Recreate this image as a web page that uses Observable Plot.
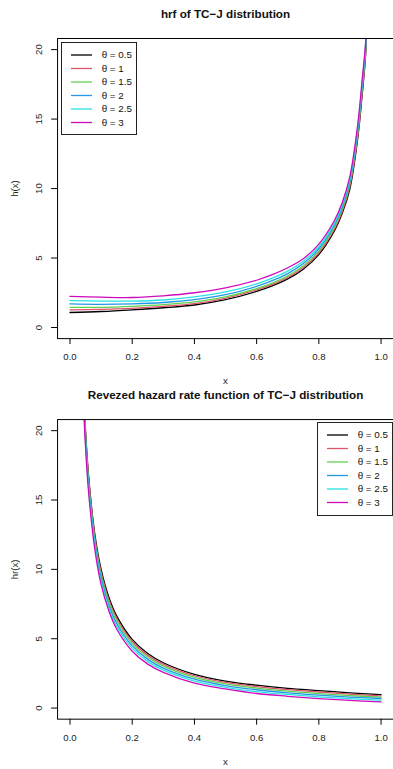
<!DOCTYPE html>
<html>
<head>
<meta charset="utf-8">
<script src="https://cdn.jsdelivr.net/npm/d3@7"></script>
<script src="https://cdn.jsdelivr.net/npm/@observablehq/plot@0.6"></script>
<style>
  html, body { margin: 0; padding: 0; background: white; }
  #wrap { position: relative; width: 393px; height: 769px; overflow: hidden; background: white;
          font-family: "Liberation Sans", Arial, sans-serif; }
  .chart { position: absolute; left: 0; }
  .legend { position: absolute; box-sizing: border-box; border: 1px solid #222; background: white; }
</style>
</head>
<body>
<div id="wrap"></div>
<script>
// ---------- data ----------
const thetaLabels = ["θ = 0.5", "θ = 1", "θ = 1.5", "θ = 2", "θ = 2.5", "θ = 3"];
const seriesColors = ["#000000", "#DF536B", "#61D04F", "#2297E6", "#28E2E5", "#CD0BBC"];

const titleTop = "hrf of TC\u2212J distribution";
const titleBottom = "Revezed hazard rate function of TC\u2212J distribution";
const xLabel = "x";
const yLabelTop = "h(x)";
const yLabelBottom = "hr(x)";

const xTicks = [0, 0.2, 0.4, 0.6, 0.8, 1.0];
const yTicks = [0, 5, 10, 15, 20];

// hazard rate function (top panel)
const xTop = [0, 0.1, 0.2, 0.3, 0.4, 0.5, 0.6, 0.65, 0.7, 0.75, 0.8, 0.85, 0.875, 0.9, 0.925, 0.94, 0.95, 0.96];
const hTheta05 = [1.08, 1.15, 1.27, 1.42, 1.62, 2.00, 2.60, 3.00, 3.50, 4.20, 5.25, 6.95, 8.20, 10.0, 13.6, 16.9, 19.5, 25.0];
const hTheta1  = [1.27, 1.30, 1.38, 1.52, 1.72, 2.10, 2.70, 3.10, 3.60, 4.32, 5.38, 7.08, 8.35, 10.2, 13.8, 17.1, 19.7, 25.2];
const hTheta15 = [1.45, 1.45, 1.52, 1.64, 1.84, 2.20, 2.80, 3.20, 3.72, 4.44, 5.52, 7.22, 8.50, 10.4, 14.0, 17.4, 19.9, 25.4];
const hTheta2  = [1.70, 1.67, 1.70, 1.80, 2.00, 2.36, 2.96, 3.37, 3.88, 4.60, 5.67, 7.38, 8.66, 10.55, 14.2, 17.6, 20.1, 25.6];
const hTheta25 = [1.94, 1.90, 1.90, 1.98, 2.20, 2.56, 3.14, 3.55, 4.06, 4.77, 5.83, 7.54, 8.82, 10.7, 14.4, 17.8, 20.25, 25.8];
const hTheta3  = [2.24, 2.18, 2.16, 2.28, 2.50, 2.85, 3.40, 3.80, 4.30, 4.95, 6.00, 7.70, 8.98, 10.9, 14.6, 18.0, 20.4, 26.0];

// reversed hazard rate function (bottom panel)
const xBottom = [0.04, 0.05, 0.06, 0.08, 0.1, 0.125, 0.15, 0.2, 0.25, 0.3, 0.4, 0.5, 0.6, 0.7, 0.8, 0.9, 1.0];
const rTheta05 = [25.0, 20.0, 16.7, 12.5, 10.0, 8.0, 6.65, 4.95, 3.93, 3.27, 2.43, 1.95, 1.65, 1.42, 1.26, 1.10, 0.97];
const rTheta1  = [24.7, 19.8, 16.5, 12.3, 9.8, 7.8, 6.48, 4.80, 3.80, 3.15, 2.33, 1.85, 1.55, 1.33, 1.16, 1.00, 0.88];
const rTheta15 = [24.5, 19.6, 16.3, 12.1, 9.6, 7.6, 6.30, 4.65, 3.66, 3.02, 2.21, 1.74, 1.44, 1.22, 1.05, 0.90, 0.79];
const rTheta2  = [24.2, 19.3, 16.0, 11.9, 9.4, 7.4, 6.10, 4.48, 3.51, 2.88, 2.08, 1.62, 1.32, 1.10, 0.93, 0.79, 0.69];
const rTheta25 = [23.9, 19.1, 15.8, 11.7, 9.15, 7.2, 5.90, 4.30, 3.35, 2.73, 1.95, 1.50, 1.19, 0.98, 0.81, 0.68, 0.57];
const rTheta3  = [23.6, 18.8, 15.5, 11.4, 8.9, 7.0, 5.70, 4.10, 3.17, 2.58, 1.80, 1.38, 1.05, 0.85, 0.68, 0.55, 0.44];

// ---------- build tidy tables ----------
function tidy(xs, seriesList) {
  const rows = [];
  seriesList.forEach((ys, i) => ys.forEach((y, j) => rows.push({x: xs[j], y, theta: thetaLabels[i]})));
  return rows;
}
const topData = tidy(xTop, [hTheta05, hTheta1, hTheta15, hTheta2, hTheta25, hTheta3]);
const bottomData = tidy(xBottom, [rTheta05, rTheta1, rTheta15, rTheta2, rTheta25, rTheta3]);

const FONT = '"Liberation Sans", Arial, sans-serif';

function panel(data, title, yLab, height, marginTop, marginBottom) {
  return Plot.plot({
    width: 396,
    height,
    marginLeft: 57.5,
    marginRight: 0,
    marginTop,
    marginBottom,
    style: {fontFamily: FONT, fontSize: "9.6px", background: "white", overflow: "visible", color: "#000"},
    x: {domain: [-0.04, 1.04]},
    y: {domain: [-0.8, 20.8]},
    color: {domain: thetaLabels, range: seriesColors},
    marks: [
      Plot.line(data, {x: "x", y: "y", z: "theta", stroke: "theta", strokeWidth: 1.3,
                       curve: "catmull-rom", clip: true}),
      Plot.frame({stroke: "#000", strokeWidth: 1}),
      Plot.axisX(xTicks, {tickSize: 6, tickFormat: () => "", label: null, stroke: "#000"}),
      Plot.axisY(yTicks, {tickSize: 6, tickFormat: () => "", label: null, stroke: "#000"}),
      Plot.text(xTicks, {x: d => d, frameAnchor: "bottom", dy: 18.6, text: d => d.toFixed(1),
                         lineAnchor: "middle", fill: "#222", fontSize: 9.7}),
      Plot.text(yTicks, {y: d => d, frameAnchor: "left", dx: -18.5, rotate: -90, text: d => String(d),
                         textAnchor: "middle", lineAnchor: "middle", fill: "#222", fontSize: 9.7}),
      Plot.text([xLabel], {frameAnchor: "bottom", dy: 43, text: d => d, lineAnchor: "middle",
                           fill: "#222", fontSize: 9.7}),
      Plot.text([yLab], {frameAnchor: "left", dx: -42.5, rotate: -90, text: d => d,
                         textAnchor: "middle", lineAnchor: "middle", fill: "#222", fontSize: 9.7}),
      Plot.text([title], {frameAnchor: "top", dy: -24.3, text: d => d, lineAnchor: "middle",
                          fontWeight: "bold", fontSize: 11.75, fill: "#111"})
    ]
  });
}

const wrap = document.getElementById("wrap");
const c1 = panel(topData, titleTop, yLabelTop, 389, 38.3, 48.3);
c1.classList.add("chart"); c1.style.top = "0px";
wrap.appendChild(c1);
const c2 = panel(bottomData, titleBottom, yLabelBottom, 380, 30.3, 47.8);
c2.classList.add("chart"); c2.style.top = "389px";
wrap.appendChild(c2);

// ---------- legends ----------
function addLegend(left, top, width, height) {
  const div = d3.select(wrap).append("div").attr("class", "legend")
    .style("left", left + "px").style("top", top + "px")
    .style("width", width + "px").style("height", height + "px");
  const svg = div.append("svg").attr("width", width).attr("height", height)
    .style("position", "absolute").style("left", "-1px").style("top", "-1px");
  thetaLabels.forEach((lab, i) => {
    const y = 13 + i * 13.5;
    svg.append("line").attr("x1", 10).attr("x2", 31).attr("y1", y).attr("y2", y)
      .attr("stroke", seriesColors[i]).attr("stroke-width", 1.3);
    svg.append("text").attr("x", 40.7).attr("y", y).attr("dy", "0.34em")
      .attr("font-family", FONT).attr("font-size", 9.8).attr("fill", "#111").text(lab);
  });
}
addLegend(61, 41.7, 75.7, 93.3);
addLegend(316.7, 422.3, 76.5, 93.7);
</script>
</body>
</html>
